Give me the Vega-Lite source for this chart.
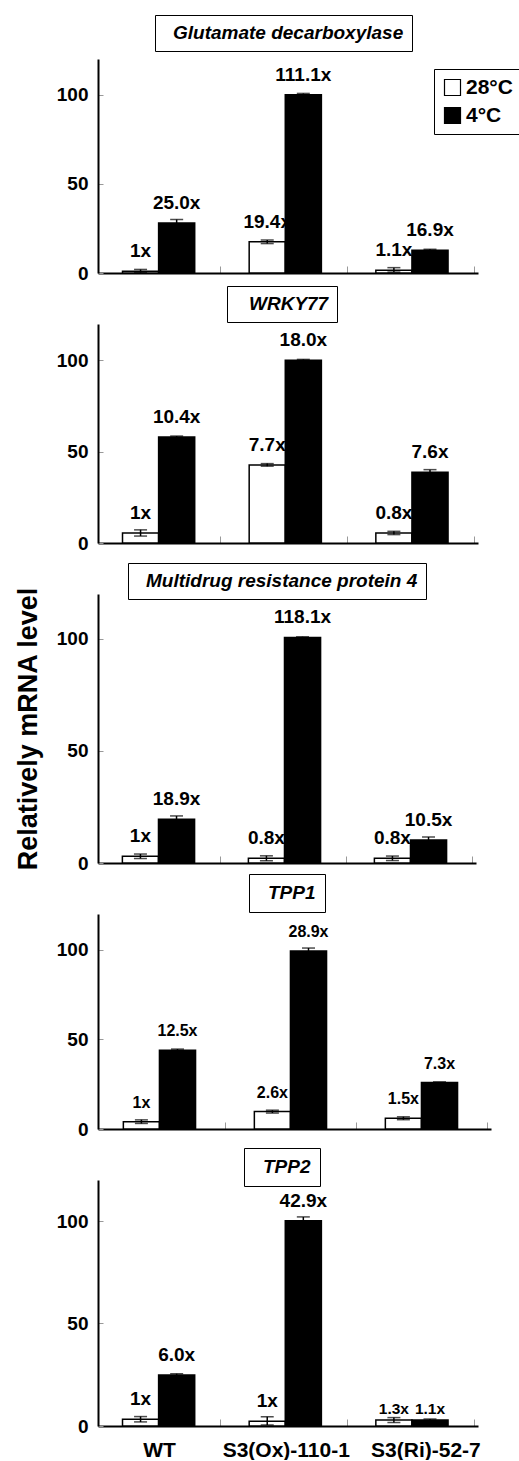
{
  "$schema": "https://vega.github.io/schema/vega-lite/v6.json",
  "padding": {"left": 14, "top": 14, "right": 0, "bottom": 0},
  "bounds": "flush",
  "spacing": 51,
  "data": {"values": [
    {"gene": "Glutamate decarboxylase", "line": "WT", "temp": "28°C", "value": 1, "lo": 0.2, "hi": 2, "label": "1x"},
    {"gene": "Glutamate decarboxylase", "line": "WT", "temp": "4°C", "value": 28, "lo": 26, "hi": 30, "label": "25.0x"},
    {"gene": "Glutamate decarboxylase", "line": "S3(Ox)-110-1", "temp": "28°C", "value": 17.5, "lo": 16.5, "hi": 18.5, "label": "19.4x"},
    {"gene": "Glutamate decarboxylase", "line": "S3(Ox)-110-1", "temp": "4°C", "value": 100, "lo": 99.3, "hi": 100.7, "label": "111.1x"},
    {"gene": "Glutamate decarboxylase", "line": "S3(Ri)-52-7", "temp": "28°C", "value": 1.5, "lo": 0.5, "hi": 3, "label": "1.1x"},
    {"gene": "Glutamate decarboxylase", "line": "S3(Ri)-52-7", "temp": "4°C", "value": 12.7, "lo": 12.2, "hi": 13.3, "label": "16.9x"},
    {"gene": "WRKY77", "line": "WT", "temp": "28°C", "value": 5.5, "lo": 3.8, "hi": 7.2, "label": "1x"},
    {"gene": "WRKY77", "line": "WT", "temp": "4°C", "value": 58.1, "lo": 57.6, "hi": 58.6, "label": "10.4x"},
    {"gene": "WRKY77", "line": "S3(Ox)-110-1", "temp": "28°C", "value": 42.8, "lo": 42.1, "hi": 43.5, "label": "7.7x"},
    {"gene": "WRKY77", "line": "S3(Ox)-110-1", "temp": "4°C", "value": 100.2, "lo": 99.8, "hi": 100.6, "label": "18.0x"},
    {"gene": "WRKY77", "line": "S3(Ri)-52-7", "temp": "28°C", "value": 5.5, "lo": 4.6, "hi": 6.4, "label": "0.8x"},
    {"gene": "WRKY77", "line": "S3(Ri)-52-7", "temp": "4°C", "value": 38.8, "lo": 37.6, "hi": 40.2, "label": "7.6x"},
    {"gene": "Multidrug resistance protein 4", "line": "WT", "temp": "28°C", "value": 3, "lo": 2, "hi": 4, "label": "1x"},
    {"gene": "Multidrug resistance protein 4", "line": "WT", "temp": "4°C", "value": 19.5, "lo": 18, "hi": 21, "label": "18.9x"},
    {"gene": "Multidrug resistance protein 4", "line": "S3(Ox)-110-1", "temp": "28°C", "value": 2.1, "lo": 1, "hi": 3.2, "label": "0.8x"},
    {"gene": "Multidrug resistance protein 4", "line": "S3(Ox)-110-1", "temp": "4°C", "value": 100.6, "lo": 100.3, "hi": 100.9, "label": "118.1x"},
    {"gene": "Multidrug resistance protein 4", "line": "S3(Ri)-52-7", "temp": "28°C", "value": 2.1, "lo": 1.1, "hi": 3.1, "label": "0.8x"},
    {"gene": "Multidrug resistance protein 4", "line": "S3(Ri)-52-7", "temp": "4°C", "value": 10.3, "lo": 9, "hi": 11.6, "label": "10.5x"},
    {"gene": "TPP1", "line": "WT", "temp": "28°C", "value": 4.1, "lo": 3.1, "hi": 5.1, "label": "1x"},
    {"gene": "TPP1", "line": "WT", "temp": "4°C", "value": 44, "lo": 43.5, "hi": 44.6, "label": "12.5x"},
    {"gene": "TPP1", "line": "S3(Ox)-110-1", "temp": "28°C", "value": 9.7, "lo": 8.9, "hi": 10.5, "label": "2.6x"},
    {"gene": "TPP1", "line": "S3(Ox)-110-1", "temp": "4°C", "value": 99.4, "lo": 97.8, "hi": 101, "label": "28.9x"},
    {"gene": "TPP1", "line": "S3(Ri)-52-7", "temp": "28°C", "value": 6, "lo": 5.2, "hi": 6.8, "label": "1.5x"},
    {"gene": "TPP1", "line": "S3(Ri)-52-7", "temp": "4°C", "value": 25.9, "lo": 25.5, "hi": 26.3, "label": "7.3x"},
    {"gene": "TPP2", "line": "WT", "temp": "28°C", "value": 3.3, "lo": 2, "hi": 4.6, "label": "1x"},
    {"gene": "TPP2", "line": "WT", "temp": "4°C", "value": 24.9, "lo": 24.4, "hi": 25.5, "label": "6.0x"},
    {"gene": "TPP2", "line": "S3(Ox)-110-1", "temp": "28°C", "value": 2.3, "lo": 0.5, "hi": 4.5, "label": "1x"},
    {"gene": "TPP2", "line": "S3(Ox)-110-1", "temp": "4°C", "value": 100.1, "lo": 98.3, "hi": 102, "label": "42.9x"},
    {"gene": "TPP2", "line": "S3(Ri)-52-7", "temp": "28°C", "value": 2.9, "lo": 1.7, "hi": 4.1, "label": "1.3x"},
    {"gene": "TPP2", "line": "S3(Ri)-52-7", "temp": "4°C", "value": 2.9, "lo": 2.4, "hi": 3.4, "label": "1.1x"}
  ]},
  "resolve": {
    "scale": {"fill": "independent", "strokeDash": "independent"},
    "legend": {"fill": "independent", "strokeDash": "independent"}
  },
  "config": {
    "font": "Liberation Sans",
    "view": {"stroke": null},
    "axis": {"domainColor": "black", "domainWidth": 2, "tickColor": "#999999", "tickWidth": 1, "ticks": true, "grid": false,
             "labelFont": "Liberation Sans", "labelFontWeight": "bold", "labelColor": "black",
             "titleFont": "Liberation Sans", "titleFontWeight": "bold", "titleColor": "black"},
    "axisY": {"tickSize": -5, "labelFontSize": 19, "labelPadding": 15, "titleFontSize": 27, "titlePadding": 14},
    "axisX": {"tickSize": -7, "labelFontSize": 21, "labelPadding": 20, "labelAngle": 0, "labelOverlap": false},
    "legend": {"labelFont": "Liberation Sans", "labelColor": "black", "labelLimit": 600}
  },
  "vconcat": [
    {
      "width": 380, "height": 214,
      "transform": [{"filter": "datum.gene === 'Glutamate decarboxylase'"}],
      "encoding": {
        "x": {"field": "line", "type": "nominal", "sort": ["WT", "S3(Ox)-110-1", "S3(Ri)-52-7"], "title": null,
              "scale": {"paddingInner": 0.43, "paddingOuter": 0.215, "align": 0.45},
              "axis": {"labels": false, "bandPosition": 1.364}},
        "xOffset": {"field": "temp", "type": "nominal", "sort": ["28°C", "4°C"], "scale": {"paddingInner": 0, "paddingOuter": 0}}
      },
      "layer": [
        {"mark": {"type": "bar", "stroke": "black", "strokeWidth": 1.5},
         "encoding": {
           "y": {"field": "value", "type": "quantitative", "title": null, "scale": {"domain": [0, 120], "nice": false}, "axis": {"values": [0, 50, 100]}},
           "fill": {"field": "temp", "type": "nominal", "scale": {"domain": ["28°C", "4°C"], "range": ["white", "black"]},
                    "legend": {"orient": "none", "legendX": 336, "legendY": 10, "title": null, "strokeColor": "black", "padding": 8,
                               "labelFontSize": 21, "labelFontWeight": "bold", "symbolType": "square", "symbolSize": 256,
                               "symbolStrokeColor": "black", "symbolStrokeWidth": 1.2, "rowPadding": 6, "labelOffset": 3}}
         }},
        {"mark": {"type": "rule", "color": "black", "strokeWidth": 1.5},
         "encoding": {
           "y": {"field": "lo", "type": "quantitative", "title": null},
           "y2": {"field": "hi"},
           "strokeDash": {"field": "gene", "type": "nominal", "scale": {"range": [[1, 0]]},
                          "legend": {"orient": "none", "legendX": 57, "legendY": -44, "title": null, "strokeColor": "black", "padding": 8,
                                     "labelFontSize": 19, "labelFontStyle": "italic", "labelFontWeight": "bold",
                                     "symbolType": "circle", "symbolOpacity": 0, "symbolSize": 0, "symbolStrokeWidth": 0, "labelOffset": -9}}
         }},
        {"mark": {"type": "tick", "color": "black", "thickness": 1.5, "size": 13}, "encoding": {"y": {"field": "lo", "type": "quantitative", "title": null}}},
        {"mark": {"type": "tick", "color": "black", "thickness": 1.5, "size": 13}, "encoding": {"y": {"field": "hi", "type": "quantitative", "title": null}}},
        {"mark": {"type": "text", "baseline": "alphabetic", "dy": -14, "fontSize": 19, "fontWeight": "bold", "color": "black"},
         "encoding": {"y": {"field": "value", "type": "quantitative", "title": null}, "text": {"field": "label"}}}
      ]
    },
    {
      "width": 380, "height": 219,
      "transform": [{"filter": "datum.gene === 'WRKY77'"}],
      "encoding": {
        "x": {"field": "line", "type": "nominal", "sort": ["WT", "S3(Ox)-110-1", "S3(Ri)-52-7"], "title": null,
              "scale": {"paddingInner": 0.43, "paddingOuter": 0.215, "align": 0.45},
              "axis": {"labels": false, "bandPosition": 1.364}},
        "xOffset": {"field": "temp", "type": "nominal", "sort": ["28°C", "4°C"], "scale": {"paddingInner": 0, "paddingOuter": 0}}
      },
      "layer": [
        {"mark": {"type": "bar", "stroke": "black", "strokeWidth": 1.5},
         "encoding": {
           "y": {"field": "value", "type": "quantitative", "title": null, "scale": {"domain": [0, 120], "nice": false}, "axis": {"values": [0, 50, 100]}},
           "fill": {"field": "temp", "type": "nominal", "scale": {"domain": ["28°C", "4°C"], "range": ["white", "black"]}, "legend": null}
         }},
        {"mark": {"type": "rule", "color": "black", "strokeWidth": 1.5},
         "encoding": {
           "y": {"field": "lo", "type": "quantitative", "title": null},
           "y2": {"field": "hi"},
           "strokeDash": {"field": "gene", "type": "nominal", "scale": {"range": [[1, 0]]},
                          "legend": {"orient": "none", "legendX": 129, "legendY": -38, "title": null, "strokeColor": "black", "padding": 8,
                                     "labelFontSize": 19, "labelFontStyle": "italic", "labelFontWeight": "bold",
                                     "symbolType": "circle", "symbolOpacity": 0, "symbolSize": 0, "symbolStrokeWidth": 0, "labelOffset": -5}}
         }},
        {"mark": {"type": "tick", "color": "black", "thickness": 1.5, "size": 13}, "encoding": {"y": {"field": "lo", "type": "quantitative", "title": null}}},
        {"mark": {"type": "tick", "color": "black", "thickness": 1.5, "size": 13}, "encoding": {"y": {"field": "hi", "type": "quantitative", "title": null}}},
        {"mark": {"type": "text", "baseline": "alphabetic", "dy": -14, "fontSize": 19, "fontWeight": "bold", "color": "black"},
         "encoding": {"y": {"field": "value", "type": "quantitative", "title": null}, "text": {"field": "label"}}}
      ]
    },
    {
      "width": 378, "height": 269,
      "transform": [{"filter": "datum.gene === 'Multidrug resistance protein 4'"}],
      "encoding": {
        "x": {"field": "line", "type": "nominal", "sort": ["WT", "S3(Ox)-110-1", "S3(Ri)-52-7"], "title": null,
              "scale": {"paddingInner": 0.43, "paddingOuter": 0.215, "align": 0.45},
              "axis": {"labels": false, "bandPosition": 1.364}},
        "xOffset": {"field": "temp", "type": "nominal", "sort": ["28°C", "4°C"], "scale": {"paddingInner": 0, "paddingOuter": 0}}
      },
      "layer": [
        {"mark": {"type": "bar", "stroke": "black", "strokeWidth": 1.5},
         "encoding": {
           "y": {"field": "value", "type": "quantitative", "title": "Relatively mRNA level", "scale": {"domain": [0, 120], "nice": false}, "axis": {"values": [0, 50, 100]}},
           "fill": {"field": "temp", "type": "nominal", "scale": {"domain": ["28°C", "4°C"], "range": ["white", "black"]}, "legend": null}
         }},
        {"mark": {"type": "rule", "color": "black", "strokeWidth": 1.5},
         "encoding": {
           "y": {"field": "lo", "type": "quantitative", "title": "Relatively mRNA level"},
           "y2": {"field": "hi"},
           "strokeDash": {"field": "gene", "type": "nominal", "scale": {"range": [[1, 0]]},
                          "legend": {"orient": "none", "legendX": 30, "legendY": -31, "title": null, "strokeColor": "black", "padding": 8,
                                     "labelFontSize": 19, "labelFontStyle": "italic", "labelFontWeight": "bold",
                                     "symbolType": "circle", "symbolOpacity": 0, "symbolSize": 0, "symbolStrokeWidth": 0, "labelOffset": -9}}
         }},
        {"mark": {"type": "tick", "color": "black", "thickness": 1.5, "size": 13}, "encoding": {"y": {"field": "lo", "type": "quantitative", "title": "Relatively mRNA level"}}},
        {"mark": {"type": "tick", "color": "black", "thickness": 1.5, "size": 13}, "encoding": {"y": {"field": "hi", "type": "quantitative", "title": "Relatively mRNA level"}}},
        {"mark": {"type": "text", "baseline": "alphabetic", "dy": -14, "fontSize": 19, "fontWeight": "bold", "color": "black"},
         "encoding": {"y": {"field": "value", "type": "quantitative", "title": "Relatively mRNA level"}, "text": {"field": "label"}}}
      ]
    },
    {
      "width": 393, "height": 215,
      "transform": [{"filter": "datum.gene === 'TPP1'"}],
      "encoding": {
        "x": {"field": "line", "type": "nominal", "sort": ["WT", "S3(Ox)-110-1", "S3(Ri)-52-7"], "title": null,
              "scale": {"paddingInner": 0.43, "paddingOuter": 0.215, "align": 0.45},
              "axis": {"labels": false, "bandPosition": 1.364}},
        "xOffset": {"field": "temp", "type": "nominal", "sort": ["28°C", "4°C"], "scale": {"paddingInner": 0, "paddingOuter": 0}}
      },
      "layer": [
        {"mark": {"type": "bar", "stroke": "black", "strokeWidth": 1.5},
         "encoding": {
           "y": {"field": "value", "type": "quantitative", "title": null, "scale": {"domain": [0, 120], "nice": false}, "axis": {"values": [0, 50, 100]}},
           "fill": {"field": "temp", "type": "nominal", "scale": {"domain": ["28°C", "4°C"], "range": ["white", "black"]}, "legend": null}
         }},
        {"mark": {"type": "rule", "color": "black", "strokeWidth": 1.5},
         "encoding": {
           "y": {"field": "lo", "type": "quantitative", "title": null},
           "y2": {"field": "hi"},
           "strokeDash": {"field": "gene", "type": "nominal", "scale": {"range": [[1, 0]]},
                          "legend": {"orient": "none", "legendX": 151, "legendY": -40, "title": null, "strokeColor": "black", "padding": 9,
                                     "labelFontSize": 19, "labelFontStyle": "italic", "labelFontWeight": "bold",
                                     "symbolType": "circle", "symbolOpacity": 0, "symbolSize": 0, "symbolStrokeWidth": 0, "labelOffset": -9}}
         }},
        {"mark": {"type": "tick", "color": "black", "thickness": 1.5, "size": 13}, "encoding": {"y": {"field": "lo", "type": "quantitative", "title": null}}},
        {"mark": {"type": "tick", "color": "black", "thickness": 1.5, "size": 13}, "encoding": {"y": {"field": "hi", "type": "quantitative", "title": null}}},
        {"mark": {"type": "text", "baseline": "alphabetic", "dy": -14, "fontSize": 16, "fontWeight": "bold", "color": "black"},
         "encoding": {"y": {"field": "value", "type": "quantitative", "title": null}, "text": {"field": "label"}}}
      ]
    },
    {
      "width": 380, "height": 246,
      "transform": [{"filter": "datum.gene === 'TPP2'"}],
      "encoding": {
        "x": {"field": "line", "type": "nominal", "sort": ["WT", "S3(Ox)-110-1", "S3(Ri)-52-7"], "title": null,
              "scale": {"paddingInner": 0.43, "paddingOuter": 0.215, "align": 0.45},
              "axis": {"labels": true, "bandPosition": 1.364,
                       "labelOffset": {"condition": {"test": "datum.value === 'S3(Ri)-52-7'", "value": 14}, "value": 1}}},
        "xOffset": {"field": "temp", "type": "nominal", "sort": ["28°C", "4°C"], "scale": {"paddingInner": 0, "paddingOuter": 0}}
      },
      "layer": [
        {"mark": {"type": "bar", "stroke": "black", "strokeWidth": 1.5},
         "encoding": {
           "y": {"field": "value", "type": "quantitative", "title": null, "scale": {"domain": [0, 120], "nice": false}, "axis": {"values": [0, 50, 100]}},
           "fill": {"field": "temp", "type": "nominal", "scale": {"domain": ["28°C", "4°C"], "range": ["white", "black"]}, "legend": null}
         }},
        {"mark": {"type": "rule", "color": "black", "strokeWidth": 1.5},
         "encoding": {
           "y": {"field": "lo", "type": "quantitative", "title": null},
           "y2": {"field": "hi"},
           "strokeDash": {"field": "gene", "type": "nominal", "scale": {"range": [[1, 0]]},
                          "legend": {"orient": "none", "legendX": 146, "legendY": -32, "title": null, "strokeColor": "black", "padding": 9,
                                     "labelFontSize": 19, "labelFontStyle": "italic", "labelFontWeight": "bold",
                                     "symbolType": "circle", "symbolOpacity": 0, "symbolSize": 0, "symbolStrokeWidth": 0, "labelOffset": -9}}
         }},
        {"mark": {"type": "tick", "color": "black", "thickness": 1.5, "size": 13}, "encoding": {"y": {"field": "lo", "type": "quantitative", "title": null}}},
        {"mark": {"type": "tick", "color": "black", "thickness": 1.5, "size": 13}, "encoding": {"y": {"field": "hi", "type": "quantitative", "title": null}}},
        {"transform": [{"filter": "datum.line !== 'S3(Ri)-52-7'"}],
         "mark": {"type": "text", "baseline": "alphabetic", "dy": -14, "fontSize": 19, "fontWeight": "bold", "color": "black"},
         "encoding": {"y": {"field": "value", "type": "quantitative", "title": null}, "text": {"field": "label"}}},
        {"transform": [{"filter": "datum.line === 'S3(Ri)-52-7'"}],
         "mark": {"type": "text", "baseline": "alphabetic", "dy": -6, "fontSize": 15.5, "fontWeight": "bold", "color": "black"},
         "encoding": {"y": {"field": "value", "type": "quantitative", "title": null}, "text": {"field": "label"}}}
      ]
    }
  ]
}
